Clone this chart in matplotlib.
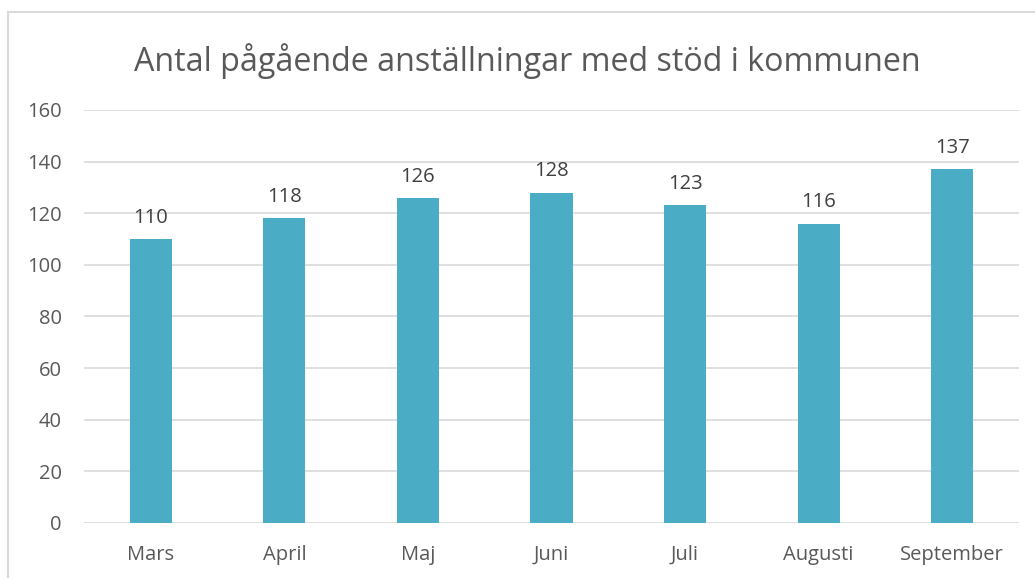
import matplotlib.pyplot as plt
from matplotlib.patches import Rectangle

months = ["Mars", "April", "Maj", "Juni", "Juli", "Augusti", "September"]
counts = [110, 118, 126, 128, 123, 116, 137]
y_ticks = [0, 20, 40, 60, 80, 100, 120, 140, 160]

title = "Antal pågående anställningar med stöd i kommunen"
bar_color = "#4BACC6"
text_color = "#595959"
grid_color = "#D9D9D9"

plt.rcParams["font.family"] = ["Open Sans", "DejaVu Sans"]

fig = plt.figure(figsize=(10.35, 5.78), dpi=100)
ax = fig.add_axes([0.0812, 0.0952, 0.9033, 0.7145])

x = range(len(months))
ax.bar(x, counts, width=0.315, color=bar_color, zorder=3)

# value labels above the bars
for xi, val in zip(x, counts):
    ax.annotate(str(val), (xi, val), xytext=(0, 8), textcoords="offset points",
                ha="center", va="bottom", fontsize=14.5, color="#404040")

ax.set_xlim(-0.5, len(months) - 0.5)
ax.set_ylim(0, 160)
ax.set_yticks(y_ticks)
ax.set_xticks(list(x))
ax.set_xticklabels(months)
ax.tick_params(axis="both", length=0, labelsize=14.5, labelcolor=text_color)
ax.tick_params(axis="y", pad=16)
ax.tick_params(axis="x", pad=16)
ax.grid(True, axis="y", color=grid_color, linewidth=1.2, zorder=0)
for side in ax.spines.values():
    side.set_visible(False)

fig.text(0.509, 0.895, title, ha="center", va="center", fontsize=23.2,
         color=text_color)

# chart area border, cut off at right/bottom like the screenshot
fig.patches.append(Rectangle((8 / 1035, -0.05), 1.1, 1 - 12 / 578 + 0.05,
                             transform=fig.transFigure, fill=False,
                             edgecolor=grid_color, linewidth=1.5))

fig.savefig("out.png", dpi=100)
